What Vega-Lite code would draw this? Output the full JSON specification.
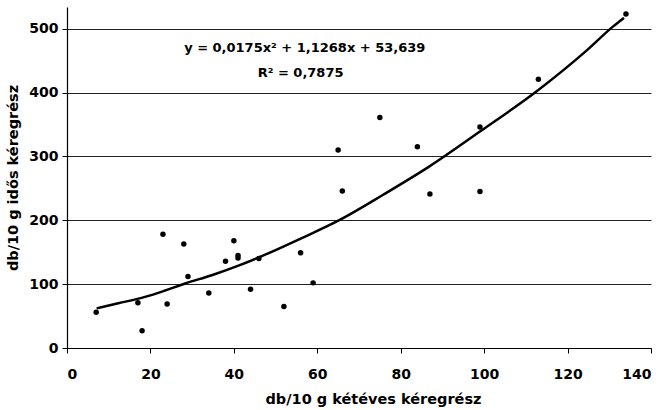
{
  "$schema": "https://vega.github.io/schema/vega-lite/v6.json",
  "width": 584,
  "height": 341,
  "autosize": {"type": "none"},
  "padding": {"left": 67, "top": 7, "right": 20, "bottom": 62},
  "background": "white",
  "config": {
    "view": {"stroke": null},
    "font": "DejaVu Sans",
    "axis": {
      "labelFont": "DejaVu Sans",
      "labelFontWeight": "bold",
      "labelFontSize": 14,
      "labelColor": "black",
      "titleFont": "DejaVu Sans",
      "titleFontWeight": "bold",
      "titleFontSize": 14.5,
      "titleColor": "black",
      "domainColor": "black",
      "tickColor": "black",
      "domainWidth": 1.2,
      "tickWidth": 1
    }
  },
  "datasets": {
    "points": [
      {"x": 7, "y": 56},
      {"x": 17, "y": 71},
      {"x": 18, "y": 27},
      {"x": 23, "y": 178},
      {"x": 24, "y": 69},
      {"x": 28, "y": 163},
      {"x": 29, "y": 112},
      {"x": 34, "y": 86},
      {"x": 38, "y": 136},
      {"x": 40, "y": 168},
      {"x": 41, "y": 145},
      {"x": 41, "y": 141},
      {"x": 44, "y": 92},
      {"x": 46, "y": 140},
      {"x": 52, "y": 65},
      {"x": 56, "y": 149},
      {"x": 59, "y": 102},
      {"x": 65, "y": 310},
      {"x": 66, "y": 246},
      {"x": 75, "y": 361},
      {"x": 84, "y": 315},
      {"x": 87, "y": 241},
      {"x": 99, "y": 346},
      {"x": 99, "y": 245},
      {"x": 113, "y": 421},
      {"x": 134, "y": 523}
    ],
    "trend": [
      {"x": 7.1, "y": 62},
      {"x": 12.3, "y": 70},
      {"x": 18.7, "y": 80},
      {"x": 23.5, "y": 90},
      {"x": 28.3, "y": 101},
      {"x": 34.7, "y": 114},
      {"x": 41.1, "y": 129},
      {"x": 47.1, "y": 145},
      {"x": 55.9, "y": 171},
      {"x": 65.5, "y": 201},
      {"x": 75.8, "y": 240},
      {"x": 86.8, "y": 284},
      {"x": 99.0, "y": 339},
      {"x": 112.6, "y": 402},
      {"x": 124.6, "y": 466},
      {"x": 131.0, "y": 504},
      {"x": 133.5, "y": 517}
    ]
  },
  "layer": [
    {
      "data": {"name": "points"},
      "mark": {"type": "point", "filled": true, "color": "black", "opacity": 1, "size": 30},
      "encoding": {
        "x": {
          "field": "x", "type": "quantitative",
          "scale": {"domain": [0, 140], "nice": false},
          "axis": {
            "values": [0, 20, 40, 60, 80, 100, 120, 140],
            "title": "db/10 g kétéves kéregrész",
            "grid": false,
            "tickSize": 5,
            "labelPadding": 14,
            "titlePadding": 11,
            "titleX": 306
          }
        },
        "y": {
          "field": "y", "type": "quantitative",
          "scale": {"domain": [0, 534], "nice": false},
          "axis": {
            "values": [0, 100, 200, 300, 400, 500],
            "title": "db/10 g idős kéregrész",
            "grid": true,
            "gridColor": "#222",
            "gridOpacity": 1,
            "gridWidth": 1,
            "tickSize": 5,
            "labelPadding": 4,
            "titlePadding": 8
          }
        }
      }
    },
    {
      "data": {"name": "trend"},
      "mark": {"type": "line", "color": "black", "strokeWidth": 2.5, "interpolate": "monotone"},
      "encoding": {
        "x": {"field": "x", "type": "quantitative"},
        "y": {"field": "y", "type": "quantitative"}
      }
    },
    {
      "data": {"values": [{}]},
      "mark": {"type": "text", "font": "DejaVu Sans", "fontWeight": "bold", "fontSize": 13, "color": "black", "align": "center", "baseline": "middle"},
      "encoding": {
        "x": {"datum": 57},
        "y": {"datum": 470},
        "text": {"value": "y = 0,0175x² + 1,1268x + 53,639"}
      }
    },
    {
      "data": {"values": [{}]},
      "mark": {"type": "text", "font": "DejaVu Sans", "fontWeight": "bold", "fontSize": 13, "color": "black", "align": "center", "baseline": "middle"},
      "encoding": {
        "x": {"datum": 56},
        "y": {"datum": 430},
        "text": {"value": "R² = 0,7875"}
      }
    }
  ]
}
